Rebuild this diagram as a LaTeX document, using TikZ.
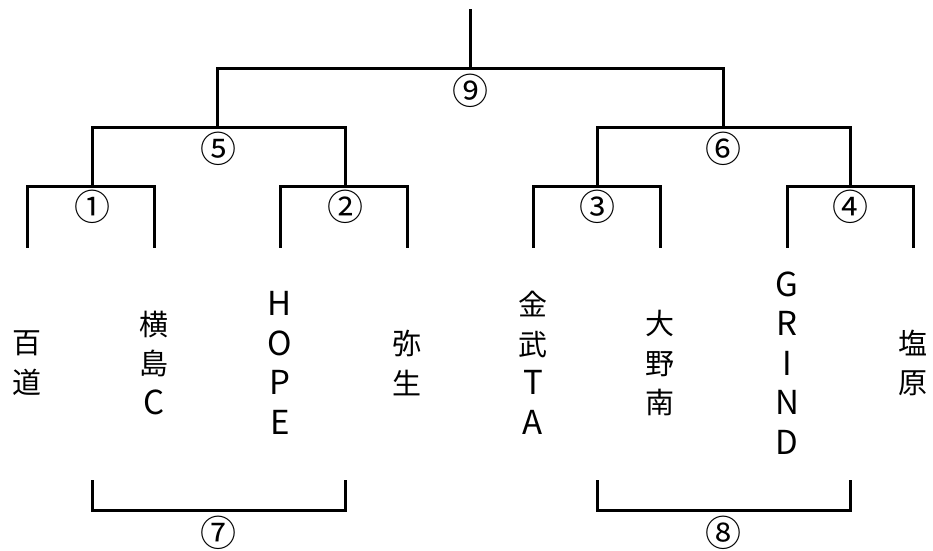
\documentclass[tikz,border=0pt]{standalone}
\usepackage{fontspec}
\newfontfamily\cjk{Noto Sans CJK JP}
\newcommand\latn[1]{{\fontsize{33}{39.5}\selectfont #1}}
\begin{document}
\begin{tikzpicture}[x=1pt,y=-1pt,
  line/.style={line width=3pt,line cap=rect},
  team/.style={font=\cjk\fontsize{29}{39.5}\selectfont,align=center,inner sep=0pt},
  num/.style={font=\cjk\fontsize{36}{36}\selectfont,inner sep=0pt}]
\useasboundingbox (0,0) rectangle (933,550);
% bracket coordinates
\coordinate (top) at (470,10);
\coordinate (r9) at (470,68);
\coordinate (l9a) at (217,68); \coordinate (l9b) at (723,68);
\coordinate (r5) at (217,127); \coordinate (r6) at (723,127);
\coordinate (l5a) at (92,127); \coordinate (l5b) at (345,127);
\coordinate (l6a) at (597,127); \coordinate (l6b) at (850,127);
\coordinate (l1a) at (27,186); \coordinate (l1b) at (154,186);
\coordinate (l2a) at (280,186); \coordinate (l2b) at (407,186);
\coordinate (l3a) at (533,186); \coordinate (l3b) at (660,186);
\coordinate (l4a) at (787,186); \coordinate (l4b) at (913,186);
\coordinate (d1) at (92,186); \coordinate (d2) at (345,186);
\coordinate (d3) at (597,186); \coordinate (d4) at (850,186);
\foreach \i/\x in {1/27,2/154,3/280,4/407,5/533,6/660,7/787,8/913}
  \coordinate (e\i) at (\x,246);
% lines
\draw[line] (top) -- (r9);
\draw[line] (r5) -- (l9a) -- (l9b) -- (r6);
\draw[line] (d1) -- (l5a) -- (l5b) -- (d2);
\draw[line] (d3) -- (l6a) -- (l6b) -- (d4);
\draw[line] (e1) -- (l1a) -- (l1b) -- (e2);
\draw[line] (e3) -- (l2a) -- (l2b) -- (e4);
\draw[line] (e5) -- (l3a) -- (l3b) -- (e6);
\draw[line] (e7) -- (l4a) -- (l4b) -- (e8);
% bottom brackets
\coordinate (b7a) at (92,481); \coordinate (b7b) at (345,481);
\coordinate (c7a) at (92,510); \coordinate (c7b) at (345,510);
\coordinate (b8a) at (597,481); \coordinate (b8b) at (850,481);
\coordinate (c8a) at (597,510); \coordinate (c8b) at (850,510);
\draw[line] (b7a) -- (c7a) -- (c7b) -- (b7b);
\draw[line] (b8a) -- (c8a) -- (c8b) -- (b8b);
% match numbers
\node[num] (m9) at (470,91) {⑨};
\node[num] (m5) at (218,149) {⑤};
\node[num] (m6) at (723,149) {⑥};
\node[num] (m1) at (92,207) {①};
\node[num] (m2) at (345,207) {②};
\node[num] (m3) at (597,207) {③};
\node[num] (m4) at (850,207) {④};
\node[num] (m7) at (218,533) {⑦};
\node[num] (m8) at (723,533) {⑧};
% teams
\node[team] (t1) at (27,363) {百\\道};
\node[team] (t2) at (154,363) {横\\島\\\latn{C}};
\node[team] (t3) at (280,363) {\latn{H}\\\latn{O}\\\latn{P}\\\latn{E}};
\node[team] (t4) at (407,363) {弥\\生};
\node[team] (t5) at (533,363) {金\\武\\\latn{T}\\\latn{A}};
\node[team] (t6) at (660,363) {大\\野\\南};
\node[team] (t7) at (787,363) {\latn{G}\\\latn{R}\\\latn{I}\\\latn{N}\\\latn{D}};
\node[team] (t8) at (913,363) {塩\\原};
\end{tikzpicture}
\end{document}
